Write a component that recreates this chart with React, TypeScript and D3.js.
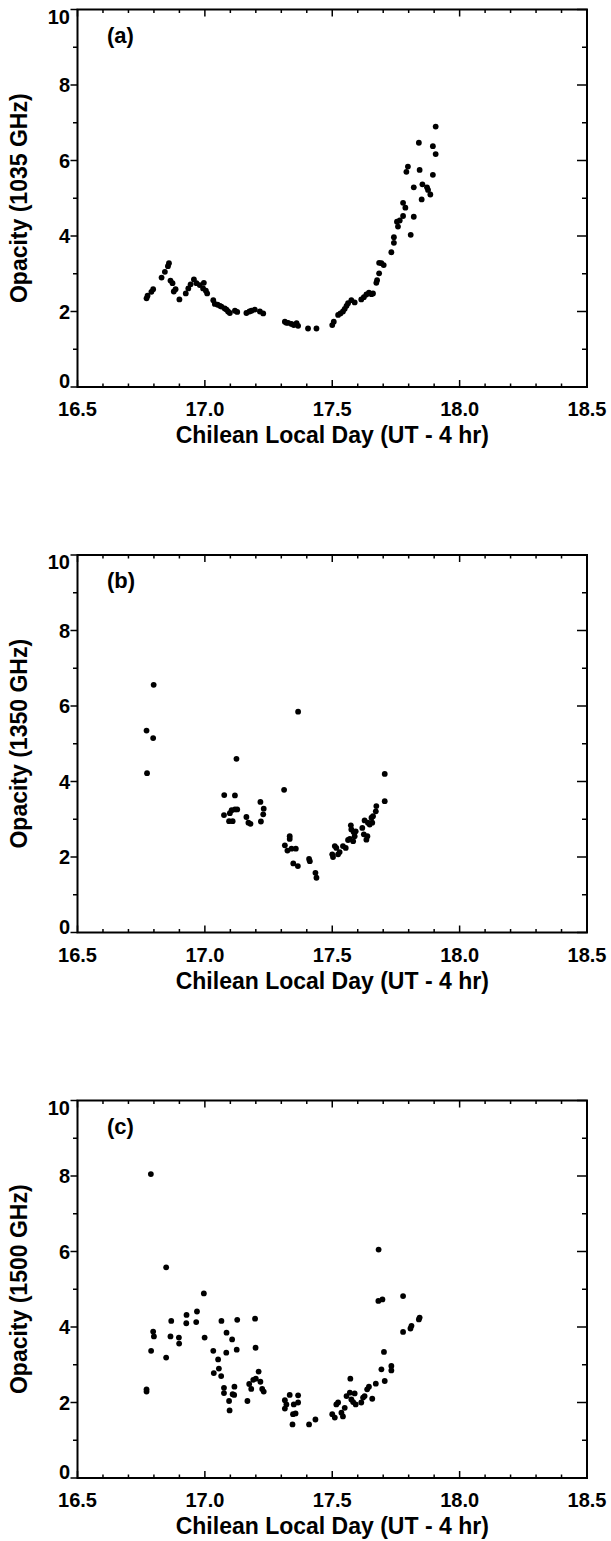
import React from "react";
import * as d3 from "d3";

// Panel (a) 1035 GHz
const timesA = [16.771, 16.775, 16.79, 16.797, 16.83, 16.843, 16.855, 16.859, 16.865, 16.873, 16.878, 16.885, 16.9, 16.925, 16.935, 16.944, 16.957, 16.967, 16.98, 16.993, 16.996, 17.004, 17.009, 17.033, 17.039, 17.05, 17.059, 17.065, 17.078, 17.085, 17.091, 17.098, 17.118, 17.127, 17.163, 17.175, 17.183, 17.196, 17.216, 17.229, 17.314, 17.32, 17.327, 17.34, 17.349, 17.36, 17.366, 17.405, 17.438, 17.5, 17.506, 17.523, 17.532, 17.542, 17.549, 17.556, 17.562, 17.575, 17.588, 17.614, 17.624, 17.634, 17.644, 17.654, 17.66, 17.673, 17.676, 17.684, 17.684, 17.693, 17.702, 17.732, 17.742, 17.742, 17.754, 17.758, 17.765, 17.778, 17.778, 17.787, 17.791, 17.797, 17.808, 17.82, 17.82, 17.84, 17.843, 17.851, 17.854, 17.872, 17.876, 17.885, 17.895, 17.895, 17.906, 17.906];
const opacityA = [2.35, 2.42, 2.52, 2.59, 2.9, 3.05, 3.2, 3.28, 2.82, 2.75, 2.53, 2.59, 2.32, 2.48, 2.61, 2.72, 2.85, 2.75, 2.7, 2.61, 2.76, 2.55, 2.48, 2.3, 2.2, 2.18, 2.15, 2.13, 2.08, 2.05, 2.0, 1.96, 2.02, 1.99, 1.96, 2.0, 2.02, 2.05, 2.0, 1.95, 1.73, 1.7, 1.7, 1.67, 1.64, 1.69, 1.62, 1.55, 1.55, 1.64, 1.73, 1.91, 1.95, 2.0, 2.07, 2.15, 2.22, 2.3, 2.24, 2.32, 2.38, 2.45, 2.5, 2.46, 2.48, 2.76, 2.83, 3.01, 3.29, 3.28, 3.23, 3.57, 3.82, 3.97, 4.38, 4.25, 4.41, 4.53, 4.88, 4.75, 5.7, 5.84, 4.03, 4.51, 5.29, 6.47, 5.75, 4.97, 5.37, 5.29, 5.22, 5.1, 6.38, 5.62, 6.17, 6.9];

// Panel (b) 1350 GHz
const timesB = [16.771, 16.773, 16.797, 16.799, 17.075, 17.076, 17.095, 17.098, 17.105, 17.109, 17.118, 17.118, 17.124, 17.127, 17.163, 17.171, 17.179, 17.218, 17.22, 17.229, 17.231, 17.311, 17.314, 17.324, 17.333, 17.333, 17.34, 17.347, 17.357, 17.365, 17.366, 17.409, 17.412, 17.434, 17.438, 17.5, 17.503, 17.51, 17.516, 17.523, 17.529, 17.542, 17.553, 17.562, 17.569, 17.573, 17.575, 17.582, 17.584, 17.588, 17.592, 17.618, 17.624, 17.627, 17.634, 17.638, 17.64, 17.647, 17.654, 17.657, 17.66, 17.671, 17.673, 17.706, 17.706];
const opacityB = [5.35, 4.22, 5.15, 6.56, 3.11, 3.64, 2.95, 3.16, 3.24, 2.95, 3.63, 3.26, 4.6, 3.26, 3.06, 2.91, 2.88, 3.46, 2.94, 3.13, 3.28, 3.78, 2.31, 2.17, 2.55, 2.48, 2.22, 1.83, 2.22, 1.76, 5.85, 1.95, 1.89, 1.58, 1.45, 2.07, 2.0, 2.29, 2.24, 2.07, 2.13, 2.29, 2.24, 2.45, 2.48, 2.84, 2.73, 2.42, 2.66, 2.55, 2.68, 2.77, 2.6, 2.97, 2.46, 2.55, 2.91, 2.86, 3.04, 2.91, 3.08, 3.21, 3.35, 3.48, 4.2];

// Panel (c) 1500 GHz
const timesC = [16.771, 16.771, 16.788, 16.789, 16.797, 16.8, 16.848, 16.848, 16.865, 16.868, 16.898, 16.899, 16.927, 16.928, 16.966, 16.969, 16.996, 16.999, 17.033, 17.035, 17.052, 17.055, 17.064, 17.065, 17.075, 17.075, 17.084, 17.085, 17.095, 17.097, 17.107, 17.109, 17.115, 17.116, 17.125, 17.127, 17.167, 17.174, 17.182, 17.19, 17.197, 17.199, 17.2, 17.211, 17.218, 17.225, 17.231, 17.314, 17.314, 17.32, 17.333, 17.344, 17.346, 17.349, 17.356, 17.366, 17.366, 17.409, 17.434, 17.5, 17.51, 17.516, 17.523, 17.536, 17.542, 17.549, 17.556, 17.569, 17.571, 17.575, 17.582, 17.588, 17.592, 17.614, 17.621, 17.627, 17.637, 17.644, 17.657, 17.671, 17.682, 17.681, 17.693, 17.697, 17.703, 17.706, 17.732, 17.732, 17.778, 17.778, 17.807, 17.811, 17.84, 17.843];
const opacityC = [2.35, 2.29, 8.05, 3.37, 3.88, 3.75, 5.58, 3.19, 3.75, 4.16, 3.72, 3.56, 4.1, 4.32, 4.13, 4.41, 4.89, 3.72, 3.37, 2.78, 3.14, 2.9, 2.7, 4.16, 2.39, 2.25, 3.32, 3.85, 2.04, 1.79, 3.67, 2.22, 2.2, 2.42, 3.4, 4.19, 2.04, 2.49, 2.36, 2.6, 4.22, 3.45, 2.63, 2.82, 2.55, 2.36, 2.29, 2.06, 1.84, 1.95, 2.2, 1.42, 1.69, 1.95, 1.71, 2.19, 2.0, 1.42, 1.55, 1.69, 1.6, 1.95, 2.0, 1.73, 1.63, 1.86, 2.17, 2.26, 2.63, 2.08, 2.01, 2.24, 1.95, 2.0, 2.13, 2.17, 2.35, 2.42, 2.1, 2.5, 6.05, 4.69, 2.88, 4.73, 3.34, 2.57, 2.97, 2.85, 4.82, 3.87, 3.96, 4.03, 4.2, 4.25];

const panelLabels = ["(a)", "(b)", "(c)"];
const yTitles = ["Opacity (1035 GHz)", "Opacity (1350 GHz)", "Opacity (1500 GHz)"];
const xTitle = "Chilean Local Day (UT - 4 hr)";
const xDomain = [16.5, 18.5];
const yDomain = [0, 10];

const W = 611;
const H = 1541;
const LEFT = 77.5;
const RIGHT = 587;
const TOP0 = 9.5;
const PLOT_H = 377.5;
const STEP = 545.5;
const FONT = "'Liberation Sans', Arial, Helvetica, sans-serif";

function Panel({ k, xs, ys }: { k: number; xs: number[]; ys: number[] }) {
  const top = TOP0 + k * STEP;
  const bottom = top + PLOT_H;
  const x = d3.scaleLinear().domain(xDomain).range([LEFT, RIGHT]);
  const y = d3.scaleLinear().domain(yDomain).range([bottom, top]);
  const xMajor = x.ticks(4);
  const xMinor = x.ticks(20).filter((t) => !xMajor.some((m) => Math.abs(m - t) < 1e-6));
  const yMajor = y.ticks(5);
  const yMinor = y.ticks(10).filter((t) => !yMajor.some((m) => Math.abs(m - t) < 1e-6));
  const fx = d3.format(".1f");
  const fy = d3.format("d");
  const cy = (top + bottom) / 2;
  const cx = (LEFT + RIGHT) / 2;
  return (
    <g>
      {xs.map((t, i) => (
        <circle key={"p" + i} cx={x(t)} cy={y(ys[i])} r={2.9} fill="#000" />
      ))}
      <rect x={LEFT} y={top} width={RIGHT - LEFT} height={PLOT_H} fill="none" stroke="#000" strokeWidth={2} />
      {xMajor.map((t) => (
        <g key={"xM" + t}>
          <line x1={x(t)} x2={x(t)} y1={bottom} y2={bottom - 7} stroke="#000" strokeWidth={1.5} />
          <line x1={x(t)} x2={x(t)} y1={top} y2={top + 7} stroke="#000" strokeWidth={1.5} />
          <text x={x(t)} y={bottom + 29} textAnchor="middle" fontSize={20} fontWeight="bold" fontFamily={FONT}>
            {fx(t)}
          </text>
        </g>
      ))}
      {xMinor.map((t) => (
        <g key={"xm" + t}>
          <line x1={x(t)} x2={x(t)} y1={bottom} y2={bottom - 3.5} stroke="#000" strokeWidth={1.5} />
          <line x1={x(t)} x2={x(t)} y1={top} y2={top + 3.5} stroke="#000" strokeWidth={1.5} />
        </g>
      ))}
      {yMajor.map((t) => {
        let ty = y(t) + 7;
        if (t === yDomain[1]) ty = top + 14;
        if (t === yDomain[0]) ty = bottom + 1;
        return (
          <g key={"yM" + t}>
            <line x1={LEFT} x2={LEFT - 7} y1={y(t)} y2={y(t)} stroke="#000" strokeWidth={1.5} />
            <line x1={RIGHT} x2={RIGHT - 10} y1={y(t)} y2={y(t)} stroke="#000" strokeWidth={1.5} />
            <text x={70} y={ty} textAnchor="end" fontSize={20} fontWeight="bold" fontFamily={FONT}>
              {fy(t)}
            </text>
          </g>
        );
      })}
      {yMinor.map((t) => (
        <g key={"ym" + t}>
          <line x1={LEFT} x2={LEFT - 4.5} y1={y(t)} y2={y(t)} stroke="#000" strokeWidth={1.5} />
          <line x1={RIGHT} x2={RIGHT - 5} y1={y(t)} y2={y(t)} stroke="#000" strokeWidth={1.5} />
        </g>
      ))}
      <text x={107} y={top + 33} fontSize={22} fontWeight="bold" fontFamily={FONT}>
        {panelLabels[k]}
      </text>
      <text x={cx} y={bottom + 56} textAnchor="middle" fontSize={23} fontWeight="bold" fontFamily={FONT}>
        {xTitle}
      </text>
      <text
        transform={`translate(27,${cy}) rotate(-90)`}
        textAnchor="middle"
        fontSize={23}
        fontWeight="bold"
        fontFamily={FONT}
      >
        {yTitles[k]}
      </text>
    </g>
  );
}

export default function App() {
  const data = [
    [timesA, opacityA],
    [timesB, opacityB],
    [timesC, opacityC],
  ];
  return (
    <svg
      width={W}
      height={H}
      viewBox={`0 0 ${W} ${H}`}
      style={{ position: "absolute", left: 0, top: 0, background: "#fff" }}
    >
      <rect x={0} y={0} width={W} height={H} fill="#fff" />
      {data.map(([xs, ys], k) => (
        <Panel key={k} k={k} xs={xs} ys={ys} />
      ))}
    </svg>
  );
}
